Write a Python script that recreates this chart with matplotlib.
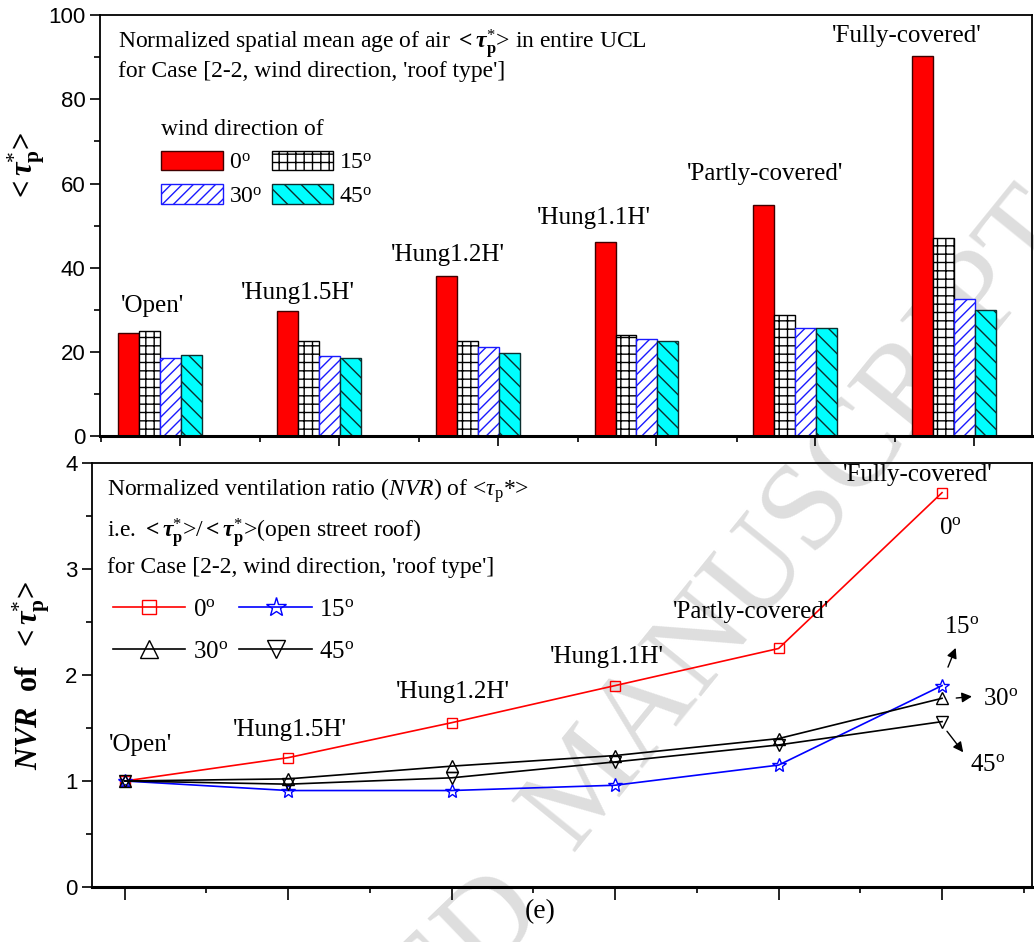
import matplotlib
matplotlib.use('Agg')
from matplotlib import pyplot as plt
from matplotlib.ticker import MultipleLocator
import numpy as np

plt.rcParams['font.family'] = ['Liberation Serif', 'DejaVu Serif']
plt.rcParams['mathtext.fontset'] = 'custom'
plt.rcParams['mathtext.rm'] = 'Liberation Serif'
plt.rcParams['mathtext.it'] = 'Liberation Serif:italic'
plt.rcParams['mathtext.bf'] = 'Liberation Serif:bold'
plt.rcParams['mathtext.bfit'] = 'Liberation Serif:bold:italic'
plt.rcParams['hatch.linewidth'] = 1.0

roof_types = ["'Open'", "'Hung1.5H'", "'Hung1.2H'", "'Hung1.1H'", "'Partly-covered'", "'Fully-covered'"]
wind_dirs = [0, 15, 30, 45]

# normalized spatial mean age of air <tau_p*>
tau_0 = [24.4, 29.7, 38.0, 46.1, 54.9, 90.3]
tau_15 = [25.0, 22.6, 22.6, 24.0, 28.7, 47.1]
tau_30 = [18.5, 19.0, 21.1, 23.0, 25.8, 32.6]
tau_45 = [19.2, 18.6, 19.7, 22.6, 25.6, 29.9]

# NVR = <tau_p*> / <tau_p*>(open street roof)
nvr_0 = [1.00, 1.22, 1.55, 1.90, 2.25, 3.72]
nvr_15 = [1.00, 0.91, 0.91, 0.96, 1.15, 1.90]
nvr_30 = [1.00, 1.02, 1.14, 1.24, 1.40, 1.78]
nvr_45 = [1.00, 0.97, 1.03, 1.18, 1.34, 1.56]

deg = [r'%d$^{\mathrm{o}}$' % d for d in wind_dirs]
tau_bold = r'$\mathbf{<}\mathbfit{\tau}_{\mathbf{p}}^{*}$>'

fig = plt.figure(figsize=(10.34, 9.42), dpi=100)
ax1 = fig.add_axes([0.0967, 0.537, 0.9013, 0.447])
ax2 = fig.add_axes([0.089, 0.0584, 0.909, 0.4501])
for ax in (ax1, ax2):
    ax.set_facecolor('none')

# journal watermark, drawn behind the axes
fig.text(0.775, 0.448, 'MANUSCRIPT', fontsize=90, color='#dedede', rotation=51,
         rotation_mode='anchor', ha='center', va='center', zorder=-5)
fig.text(0.285, -0.187, 'ACCEPTED', fontsize=90, color='#dedede', rotation=44,
         rotation_mode='anchor', ha='center', va='center', zorder=-5)

# ---- top: bar chart ----
x = np.arange(len(roof_types))
w = 0.132
styles = [
    dict(color='#ff0000', edgecolor='#400000', hatch=None),
    dict(color='white', edgecolor='black', hatch='++'),
    dict(color='white', edgecolor='#1a1aff', hatch='///'),
    dict(color='#00ffff', edgecolor='#0b2f2f', hatch='\\\\'),
]
bars = []
for k, vals in enumerate([tau_0, tau_15, tau_30, tau_45]):
    b = ax1.bar(x + (k - 1.5) * w, vals, w, linewidth=1.0, **styles[k])
    bars.append(b)

ax1.set_xlim(-0.378, 5.49)
ax1.set_ylim(0, 100)
ax1.yaxis.set_major_locator(MultipleLocator(20))
ax1.yaxis.set_minor_locator(MultipleLocator(10))
ax1.set_xticks(x + 0.126)
ax1.set_xticks(x - 0.37, minor=True)
ax1.set_xticklabels([])
ax1.tick_params(which='major', direction='out', length=7, width=1.2, labelsize=16)
ax1.tick_params(which='minor', direction='out', length=4, width=1.2)
for lab in ax1.get_yticklabels():
    lab.set_family('Liberation Sans')
ax1.spines['bottom'].set_linewidth(2.2)
for s in ['left', 'top', 'right']:
    ax1.spines[s].set_linewidth(1.3)

ax1.set_ylabel(tau_bold, fontsize=22, fontweight='bold')
ax1.yaxis.set_label_coords(-0.057, 0.64)

ax1.text(0.019, 0.93, r'Normalized spatial mean age of air ' + tau_bold + ' in entire UCL',
         transform=ax1.transAxes, fontsize=17, va='center')
ax1.text(0.019, 0.866, "for Case [2-2, wind direction, 'roof type']",
         transform=ax1.transAxes, fontsize=17, va='center')

bar_lab_x = [-0.05, 0.87, 1.81, 2.73, 3.81, 4.70]
bar_lab_y = [30.9, 34.0, 43.0, 51.8, 62.2, 95.0]
for name, lx, ly in zip(roof_types, bar_lab_x, bar_lab_y):
    ax1.text(lx, ly, name, fontsize=18, ha='center', va='center')

leg1 = ax1.legend([bars[0], bars[2], bars[1], bars[3]], [deg[0], deg[2], deg[1], deg[3]],
                  ncol=2, loc='upper left', bbox_to_anchor=(0.066, 0.753), frameon=False,
                  title='wind direction of', title_fontsize=17, fontsize=17,
                  handlelength=2.6, handleheight=0.9, handletextpad=0.25,
                  columnspacing=0.4, labelspacing=0.45, borderpad=0, borderaxespad=0,
                  alignment='left')

# ---- bottom: NVR lines ----
xc = np.arange(1, len(roof_types) + 1)
l0, = ax2.plot(xc, nvr_0, '-', color='red', lw=1.2, marker='s', ms=6.5, mfc='none', mec='red', mew=1.0)
l15, = ax2.plot(xc, nvr_15, '-', color='blue', lw=1.2, marker='*', ms=10, mfc='none', mec='blue', mew=1.0)
l30, = ax2.plot(xc, nvr_30, '-', color='black', lw=1.2, marker='^', ms=9, mfc='none', mec='black', mew=1.0)
l45, = ax2.plot(xc, nvr_45, '-', color='black', lw=1.2, marker='v', ms=9, mfc='none', mec='black', mew=1.0)

ax2.set_xlim(0.8, 6.55)
ax2.set_ylim(0, 4)
ax2.yaxis.set_major_locator(MultipleLocator(1))
ax2.yaxis.set_minor_locator(MultipleLocator(0.5))
ax2.xaxis.set_major_locator(MultipleLocator(1))
ax2.xaxis.set_minor_locator(MultipleLocator(0.5))
ax2.set_xticklabels([])
ax2.tick_params(which='major', direction='out', length=7, width=1.2, labelsize=16)
ax2.tick_params(axis='x', which='major', length=9)
ax2.tick_params(which='minor', direction='out', length=4, width=1.2)
for lab in ax2.get_yticklabels():
    lab.set_family('Liberation Sans')
ax2.spines['bottom'].set_linewidth(2.2)
for s in ['left', 'top', 'right']:
    ax2.spines[s].set_linewidth(1.3)

ax2.set_ylabel(r'$\mathbfit{NVR}$  $\mathbf{of}$  ' + tau_bold, fontsize=22, fontweight='bold')
ax2.yaxis.set_label_coords(-0.043, 0.5)

ax2.text(0.016, 0.935, r'Normalized ventilation ratio ($NVR$) of <$\tau_{\mathrm{p}}$*>',
         transform=ax2.transAxes, fontsize=17, va='center')
ax2.text(0.016, 0.834, r'i.e. ' + tau_bold + '/' + tau_bold + '(open street roof)',
         transform=ax2.transAxes, fontsize=17, va='center')
ax2.text(0.016, 0.754, "for Case [2-2, wind direction, 'roof type']",
         transform=ax2.transAxes, fontsize=17, va='center')

line_lab_x = [1.10, 2.01, 3.01, 3.95, 4.83, 5.85]
line_lab_y = [1.34, 1.48, 1.84, 2.17, 2.59, 3.89]
for name, lx, ly in zip(roof_types, line_lab_x, line_lab_y):
    ax2.text(lx, ly, name, fontsize=18, ha='center', va='center')

leg2 = ax2.legend([l0, l30, l15, l45], [deg[0], deg[2], deg[1], deg[3]],
                  ncol=2, loc='upper left', bbox_to_anchor=(0.022, 0.68), frameon=False,
                  fontsize=18, handlelength=2.9, handletextpad=0.3, markerscale=1.45,
                  columnspacing=0.46, labelspacing=0.78, borderpad=0, borderaxespad=0)

arrow = dict(arrowstyle='-|>', color='black', lw=1.0, mutation_scale=15)
ax2.text(6.05, 3.39, deg[0], fontsize=18, ha='center', va='center')
ax2.annotate('', xy=(6.09, 2.28), xytext=(6.03, 2.05), arrowprops=arrow)
ax2.text(6.12, 2.45, deg[1], fontsize=18, ha='center', va='center')
ax2.annotate('', xy=(6.20, 1.80), xytext=(6.07, 1.78), arrowprops=arrow)
ax2.text(6.36, 1.77, deg[2], fontsize=18, ha='center', va='center')
ax2.annotate('', xy=(6.14, 1.25), xytext=(6.02, 1.49), arrowprops=arrow)
ax2.text(6.28, 1.15, deg[3], fontsize=18, ha='center', va='center')

fig.text(0.522, 0.032, '(e)', fontsize=20, ha='center', va='center')

plt.savefig('out.png', dpi=100)
